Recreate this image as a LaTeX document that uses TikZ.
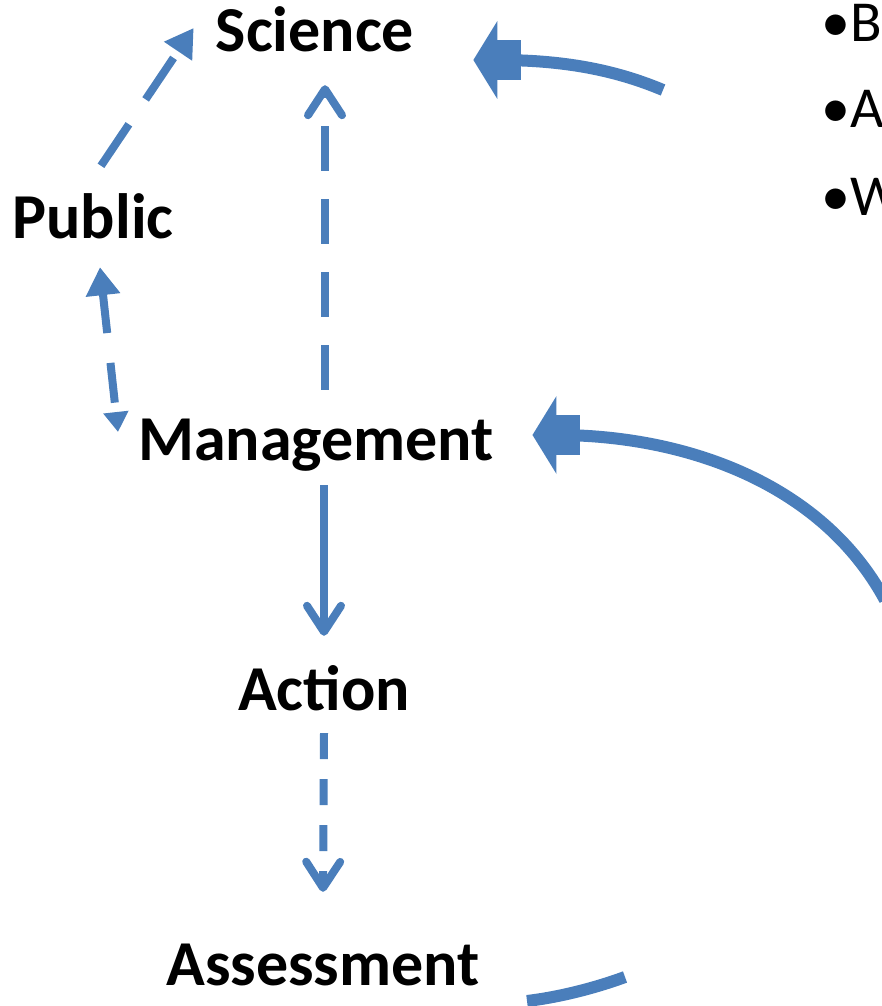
\documentclass[tikz,border=0pt]{standalone}
\usepackage{fontspec}
\setmainfont{Carlito}
\usetikzlibrary{arrows.meta}
\definecolor{cycleblue}{RGB}{74,126,187}

\begin{document}
\begin{tikzpicture}[x=1pt,y=-1pt,
  word/.style={font=\fontsize{64}{76}\selectfont\bfseries, inner sep=0pt,
    text height=42pt, text depth=13pt, anchor=base},
  point/.style={font=\fontsize{58}{70}\selectfont, inner sep=0pt, anchor=base west},
  flowline/.style={cycleblue, line width=8pt},
  loopline/.style={cycleblue, line width=12pt},
  barb/.style={-{Straight Barb[length=26pt,width=34pt,round]}},
  blockhead/.style={-{Rectangle[length=24pt,width=40pt,line width=0pt]Triangle[length=24pt,width=78pt,line width=0pt]}}
]
\useasboundingbox (0,0) rectangle (881,1006);

\node[word] (sci) at (315,52) {Science};
\node[word] (pub) at (93,238) {Public};
\node[word] (man) at (316,460) {Management};
\node[word] (act) at (324,710) {Action};
\node[word] (ass) at (323,985) {Assessment};

\node[point] (bul1) at (821,42) {•B};
\node[point] (bul2) at (821,128) {•A};
\node[point] (bul3) at (821,215) {•W};

\coordinate (inSci) at (663,90);
\coordinate (inMan) at (885,600);
\coordinate (outAssA) at (527,1001);
\coordinate (outAssB) at (625,977);

% the cycle
\draw[flowline,barb] ([xshift=8pt,yshift=-12pt]man.south) -- ([yshift=32pt]act.north);
\draw[flowline,barb,dash pattern=on 26pt off 20pt] ([yshift=-10pt]act.south) -- ([yshift=51pt]ass.north);
\draw[flowline,barb,dash pattern=on 45pt off 28pt] ([xshift=9pt,yshift=28pt]man.north) -- ([xshift=10pt,yshift=-20pt]sci.south);
\draw[flowline,-{Triangle[length=28pt,width=32pt]},dash pattern=on 50pt off 30pt] ([xshift=8pt,yshift=30pt]pub.north) -- ([xshift=-22pt,yshift=9.5pt]sci.west);
\draw[flowline,{Triangle[length=28pt,width=33pt]}-{Triangle[length=20pt,width=24pt]},dash pattern=on 40pt off 30pt] ([xshift=7pt,yshift=-16pt]pub.south) -- ([xshift=-20pt,yshift=13.5pt]man.west);

% feedback loops
\draw[loopline,blockhead] (inSci) .. controls (620,72) and (570,60) .. ([xshift=59pt,yshift=-22.5pt]sci.east);
\draw[loopline,blockhead] (inMan) .. controls (820,480) and (680,435) .. ([xshift=38.5pt,yshift=10.5pt]man.east);
\draw[loopline] (outAssA) .. controls (560,997) and (595,988) .. (outAssB);
\end{tikzpicture}
\end{document}
